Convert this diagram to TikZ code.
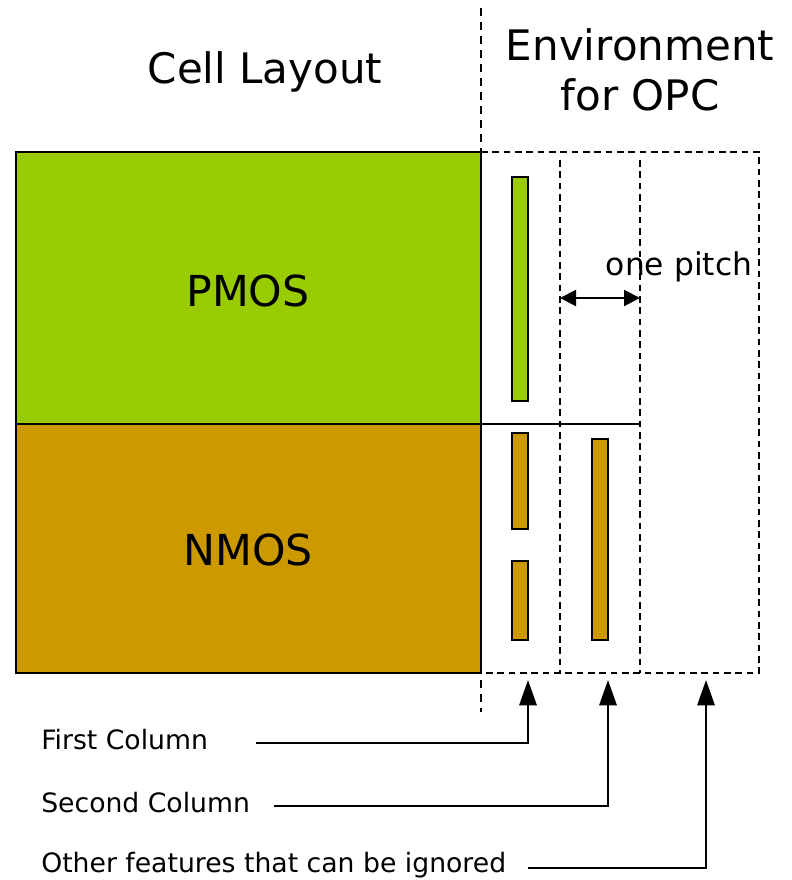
\documentclass[tikz,border=0pt]{standalone}
\usepackage{fontspec}
\setmainfont{DejaVu Sans}
\usetikzlibrary{arrows.meta}
\definecolor{pgreen}{HTML}{99CC00}
\definecolor{nbrown}{HTML}{CC9900}
\tikzset{>=latex}
\tikzset{region/.style={draw,line width=1.9pt},
         bar/.style={draw,line width=1.1pt},
         envline/.style={dashed,line width=1.6pt,dash pattern=on 5pt off 3.5pt},
         pointer/.style={line width=1.6pt,-{Triangle[length=19pt,width=13pt]}},
         collabel/.style={anchor=west,inner sep=0pt,font=\fontsize{20}{24}\selectfont}}

\begin{document}
\begin{tikzpicture}[x=0.75pt,y=-0.75pt]
                    \useasboundingbox (0,0) rectangle (791,880);

                    % titles
                    \node[font=\fontsize{31.5}{36}\selectfont] (cell) at (265,72) {Cell Layout};
                    \node[align=center,font=\fontsize{31.5}{37.5}\selectfont] (env) at (640,70) {Environment\\for OPC};

                    % cell
                    \draw[region,fill=pgreen] (16,152) rectangle (481,424);
                    \draw[region,fill=nbrown] (16,424) rectangle (481,673);
                    \node[font=\fontsize{32}{36}\selectfont] (pmos) at (248,291) {PMOS};
                    \node[font=\fontsize{32}{36}\selectfont] (nmos) at (248,550) {NMOS};

                    % environment
                    \draw[dashed,line width=0.8pt,dash pattern=on 6pt off 4.5pt] (481,8) -- (481,712);
                    \draw[envline] (481,152) -- (759,152) -- (759,673) -- (481,673);
                    \draw[envline] (560,160) -- (560,673);
                    \draw[envline] (640,160) -- (640,673);
                    \draw[line width=1.9pt] (481,424) -- (640,424);

                    % features
                    \draw[bar,fill=pgreen] (512,177) rectangle (528,401);
                    \draw[bar,fill=nbrown] (512,433) rectangle (528,529);
                    \draw[bar,fill=nbrown] (512,561) rectangle (528,640);
                    \draw[bar,fill=nbrown] (592,439) rectangle (608,640);

                    % pitch
                    \coordinate (p1) at (560,298);
                    \coordinate (p2) at (640,298);
                    \draw[line width=1.6pt,{Triangle[length=12pt,width=12pt]}-{Triangle[length=12pt,width=12pt]}] (p1) -- (p2);
                    \node[font=\fontsize{23.5}{26}\selectfont] (pitch) at (679,267) {one pitch};

                    % columns
                    \node[collabel] (first) at (41,740) {First Column};
                    \node[collabel] (second) at (41,803) {Second Column};
                    \node[collabel] (other) at (41,865) {Other features that can be ignored};
                    \coordinate (c1) at (528,680);
                    \coordinate (c2) at (608,680);
                    \coordinate (c3) at (706,680);
                    \draw[pointer] ([xshift=36pt,yshift=-2pt]first.east) -| (c1);
                    \draw[pointer] ([xshift=18pt,yshift=-2pt]second.east) -| (c2);
                    \draw[pointer] ([xshift=16pt,yshift=-2pt]other.east) -| (c3);
                \end{tikzpicture}
\end{document}
